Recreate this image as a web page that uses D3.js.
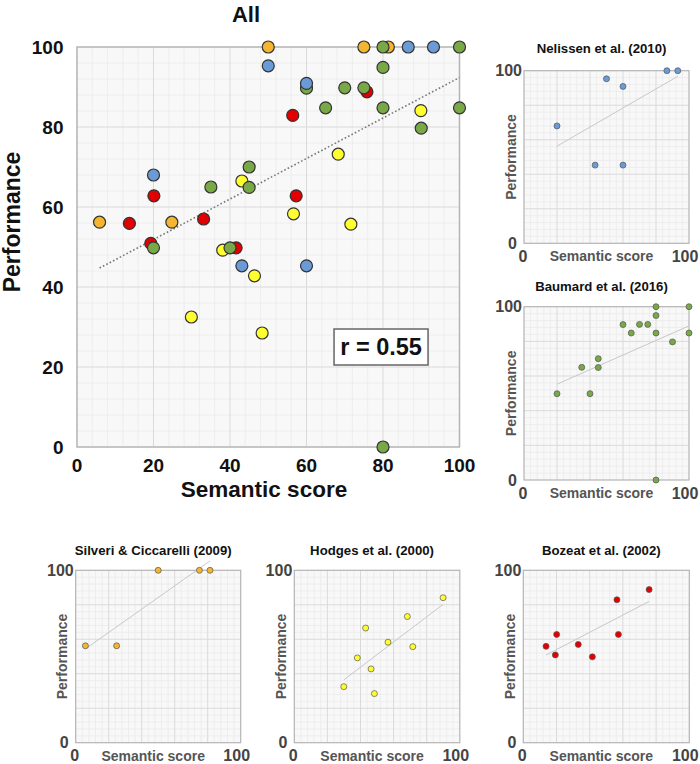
<!DOCTYPE html>
<html>
<head>
<meta charset="utf-8">
<script src="https://cdn.jsdelivr.net/npm/d3@7"></script>
<style>
  html, body { margin: 0; padding: 0; background: #fff; }
  svg { display: block; }
  text { font-family: "Liberation Sans", Arial, Helvetica, sans-serif; font-weight: bold; }
</style>
</head>
<body>
<svg id="chart" width="700" height="764"></svg>
<script>
// ---------------- DATA ----------------
const studyNames = ["Nelissen et al. (2010)", "Baumard et al. (2016)", "Silveri & Ciccarelli (2009)", "Hodges et al. (2000)", "Bozeat et al. (2002)"];
const studyColors = ["#6b9bd6", "#79a846", "#f4b630", "#ffff30", "#e20000"];

const nelissenSemantic    = [20, 50, 60, 43.1, 60, 86.6, 93.2];
const nelissenPerformance = [68, 95.3, 90.9, 45.3, 45.3, 100, 100];

const baumardSemantic    = [20, 35, 40, 45, 45, 60, 65, 70, 75, 80, 80, 80, 90, 100, 100, 80];
const baumardPerformance = [49.8, 65, 49.8, 70, 64.9, 89.7, 84.8, 89.8, 89.8, 100, 94.9, 84.8, 79.7, 100, 84.8, 0];

const silveriSemantic    = [5.9, 24.8, 50, 75, 81.4];
const silveriPerformance = [56.2, 56.2, 100, 100, 100];

const hodgesSemantic    = [29.9, 38.1, 43.1, 46.4, 48.4, 56.6, 68.3, 71.6, 89.9];
const hodgesPerformance = [32.5, 49.2, 66.5, 42.8, 28.5, 58.3, 73.2, 55.7, 84.1];

const bozeatSemantic    = [13.7, 20.1, 19.3, 33.1, 41.6, 56.4, 57.3, 75.8];
const bozeatPerformance = [55.9, 62.8, 50.9, 57, 49.8, 82.9, 62.8, 88.8];

const mainXTicks = [0, 20, 40, 60, 80, 100];
const mainYTicks = [0, 20, 40, 60, 80, 100];
const panelTicks = [0, 100];
const correlationLabel = "r = 0.55";

// ---------------- BUILD ----------------
const studies = [
  { name: studyNames[0], color: studyColors[0], x: nelissenSemantic, y: nelissenPerformance },
  { name: studyNames[1], color: studyColors[1], x: baumardSemantic, y: baumardPerformance },
  { name: studyNames[2], color: studyColors[2], x: silveriSemantic, y: silveriPerformance },
  { name: studyNames[3], color: studyColors[3], x: hodgesSemantic, y: hodgesPerformance },
  { name: studyNames[4], color: studyColors[4], x: bozeatSemantic, y: bozeatPerformance }
].map(s => ({ ...s, pts: s.x.map((v, i) => ({ x: v, y: s.y[i], color: s.color })) }));

function regression(pts) {
  const n = pts.length;
  const mx = d3.mean(pts, d => d.x), my = d3.mean(pts, d => d.y);
  let sxy = 0, sxx = 0;
  pts.forEach(p => { sxy += (p.x - mx) * (p.y - my); sxx += (p.x - mx) * (p.x - mx); });
  const b = sxy / sxx, a = my - b * mx;
  const [x0, x1] = d3.extent(pts, d => d.x);
  return [{ x: x0, y: a + b * x0 }, { x: x1, y: a + b * x1 }];
}

const svg = d3.select("#chart");
svg.append("rect").attr("width", 700).attr("height", 764).attr("fill", "#fff");

function gridBlock(g, x, y, w, h, minorStep, majorStep, strokeW) {
  g.append("rect").attr("x", x.range()[0]).attr("y", y.range()[1])
    .attr("width", w).attr("height", h).attr("fill", "#f8f8f8");
  const minor = d3.range(0, 100.01, minorStep).filter(v => v % majorStep !== 0);
  const major = d3.range(0, 100.01, majorStep).filter(v => v > 0 && v < 100);
  g.selectAll(null).data(minor).join("line")
    .attr("x1", d => x(d)).attr("x2", d => x(d)).attr("y1", y(0)).attr("y2", y(100))
    .attr("stroke", "#ebebeb").attr("stroke-width", 0.8);
  g.selectAll(null).data(minor).join("line")
    .attr("y1", d => y(d)).attr("y2", d => y(d)).attr("x1", x(0)).attr("x2", x(100))
    .attr("stroke", "#ebebeb").attr("stroke-width", 0.8);
  g.selectAll(null).data(major).join("line")
    .attr("x1", d => x(d)).attr("x2", d => x(d)).attr("y1", y(0)).attr("y2", y(100))
    .attr("stroke", "#dadada").attr("stroke-width", 1);
  g.selectAll(null).data(major).join("line")
    .attr("y1", d => y(d)).attr("y2", d => y(d)).attr("x1", x(0)).attr("x2", x(100))
    .attr("stroke", "#dadada").attr("stroke-width", 1);
  g.append("rect").attr("x", x.range()[0]).attr("y", y.range()[1])
    .attr("width", w).attr("height", h).attr("fill", "none")
    .attr("stroke", "#b4b4b4").attr("stroke-width", strokeW);
}

// ---------------- MAIN CHART ----------------
const M = { left: 77, right: 459.5, top: 47, bottom: 447 };
const xMain = d3.scaleLinear().domain([0, 100]).range([M.left, M.right]);
const yMain = d3.scaleLinear().domain([0, 100]).range([M.bottom, M.top]);
const gMain = svg.append("g");
gridBlock(gMain, xMain, yMain, M.right - M.left, M.bottom - M.top, 4, 20, 1.5);

gMain.append("text").attr("x", 246).attr("y", 22).attr("text-anchor", "middle")
  .attr("font-size", 22).attr("fill", "#111").text("All");

gMain.selectAll(null).data(mainXTicks).join("text")
  .attr("x", d => xMain(d)).attr("y", 472).attr("text-anchor", "middle")
  .attr("font-size", 19).attr("fill", "#111").text(d => d);
gMain.selectAll(null).data(mainYTicks).join("text")
  .attr("x", 63.5).attr("y", d => yMain(d)).attr("dy", "0.36em").attr("text-anchor", "end")
  .attr("font-size", 19).attr("fill", "#111").text(d => d);

gMain.append("text").attr("x", 264).attr("y", 497).attr("text-anchor", "middle")
  .attr("font-size", 22.5).attr("fill", "#111").text("Semantic score");
gMain.append("text").attr("transform", "translate(20,222) rotate(-90)").attr("text-anchor", "middle")
  .attr("font-size", 23).attr("fill", "#111").text("Performance");

const allPts = studies.flatMap(s => s.pts);
const mainTrend = regression(allPts);
gMain.append("line")
  .attr("x1", xMain(mainTrend[0].x)).attr("y1", yMain(mainTrend[0].y))
  .attr("x2", xMain(mainTrend[1].x)).attr("y2", yMain(mainTrend[1].y))
  .attr("stroke", "#777").attr("stroke-width", 1.6).attr("stroke-dasharray", "1.6,2.2");

// draw order: red, yellow, orange, green, blue
const drawOrder = [4, 3, 2, 1, 0];
drawOrder.forEach(i => {
  gMain.selectAll(null).data(studies[i].pts).join("circle")
    .attr("cx", d => xMain(d.x)).attr("cy", d => yMain(d.y)).attr("r", 6)
    .attr("fill", d => d.color).attr("stroke", "#333").attr("stroke-width", 1.2);
});

// r label box
gMain.append("rect").attr("x", xMain(67.2)).attr("y", yMain(29.5))
  .attr("width", 94).attr("height", 36).attr("fill", "#fff")
  .attr("stroke", "#666").attr("stroke-width", 1.5);
gMain.append("text").attr("x", xMain(67.2) + 47).attr("y", yMain(29.5) + 18).attr("dy", "0.36em")
  .attr("text-anchor", "middle").attr("font-size", 23.5).attr("fill", "#111").text(correlationLabel);

// ---------------- PANELS ----------------
const panelLayout = [
  { left: 524, top: 70.7, w: 165, h: 172.6, titleGap: 18 },
  { left: 524, top: 306.7, w: 165, h: 173.3, titleGap: 16 },
  { left: 75.7, top: 570.3, w: 165, h: 172.4, titleGap: 15.5 },
  { left: 294.3, top: 570.3, w: 165.5, h: 172.4, titleGap: 15.5 },
  { left: 523.3, top: 570.3, w: 166, h: 172.4, titleGap: 15.5 }
];

studies.forEach((s, i) => {
  const L = panelLayout[i];
  const x = d3.scaleLinear().domain([0, 100]).range([L.left, L.left + L.w]);
  const y = d3.scaleLinear().domain([0, 100]).range([L.top + L.h, L.top]);
  const g = svg.append("g");
  gridBlock(g, x, y, L.w, L.h, 4, 20, 1.2);
  const cx = L.left + L.w / 2;

  g.append("text").attr("x", cx - 5).attr("y", L.top - L.titleGap).attr("text-anchor", "middle")
    .attr("font-size", 13.2).attr("fill", "#111").text(s.name);

  // y ticks
  g.append("text").attr("x", L.left - 2).attr("y", y(100)).attr("dy", "0.36em")
    .attr("text-anchor", "end").attr("font-size", 16).attr("fill", "#444").text(panelTicks[1]);
  g.append("text").attr("x", L.left - 7).attr("y", y(0)).attr("dy", "0.36em")
    .attr("text-anchor", "end").attr("font-size", 16).attr("fill", "#444").text(panelTicks[0]);
  // x ticks
  g.append("text").attr("x", x(0) - 1).attr("y", L.top + L.h + 18.5)
    .attr("text-anchor", "middle").attr("font-size", 16).attr("fill", "#444").text(panelTicks[0]);
  g.append("text").attr("x", x(100) - 4).attr("y", L.top + L.h + 18.5)
    .attr("text-anchor", "middle").attr("font-size", 16).attr("fill", "#444").text(panelTicks[1]);

  g.append("text").attr("x", cx - 5).attr("y", L.top + L.h + 18)
    .attr("text-anchor", "middle").attr("font-size", 14).attr("fill", "#555").text("Semantic score");
  g.append("text").attr("transform", `translate(${L.left - 8.5},${L.top + L.h / 2}) rotate(-90)`)
    .attr("text-anchor", "middle").attr("font-size", 14).attr("fill", "#555").text("Performance");

  const t = regression(s.pts);
  g.append("line")
    .attr("x1", x(t[0].x)).attr("y1", y(t[0].y)).attr("x2", x(t[1].x)).attr("y2", y(t[1].y))
    .attr("stroke", "#c8c8c8").attr("stroke-width", 1);

  g.selectAll(null).data(s.pts).join("circle")
    .attr("cx", d => x(d.x)).attr("cy", d => y(d.y)).attr("r", 3)
    .attr("fill", d => d.color).attr("stroke", "#555").attr("stroke-width", 0.7);
});
</script>
</body>
</html>
